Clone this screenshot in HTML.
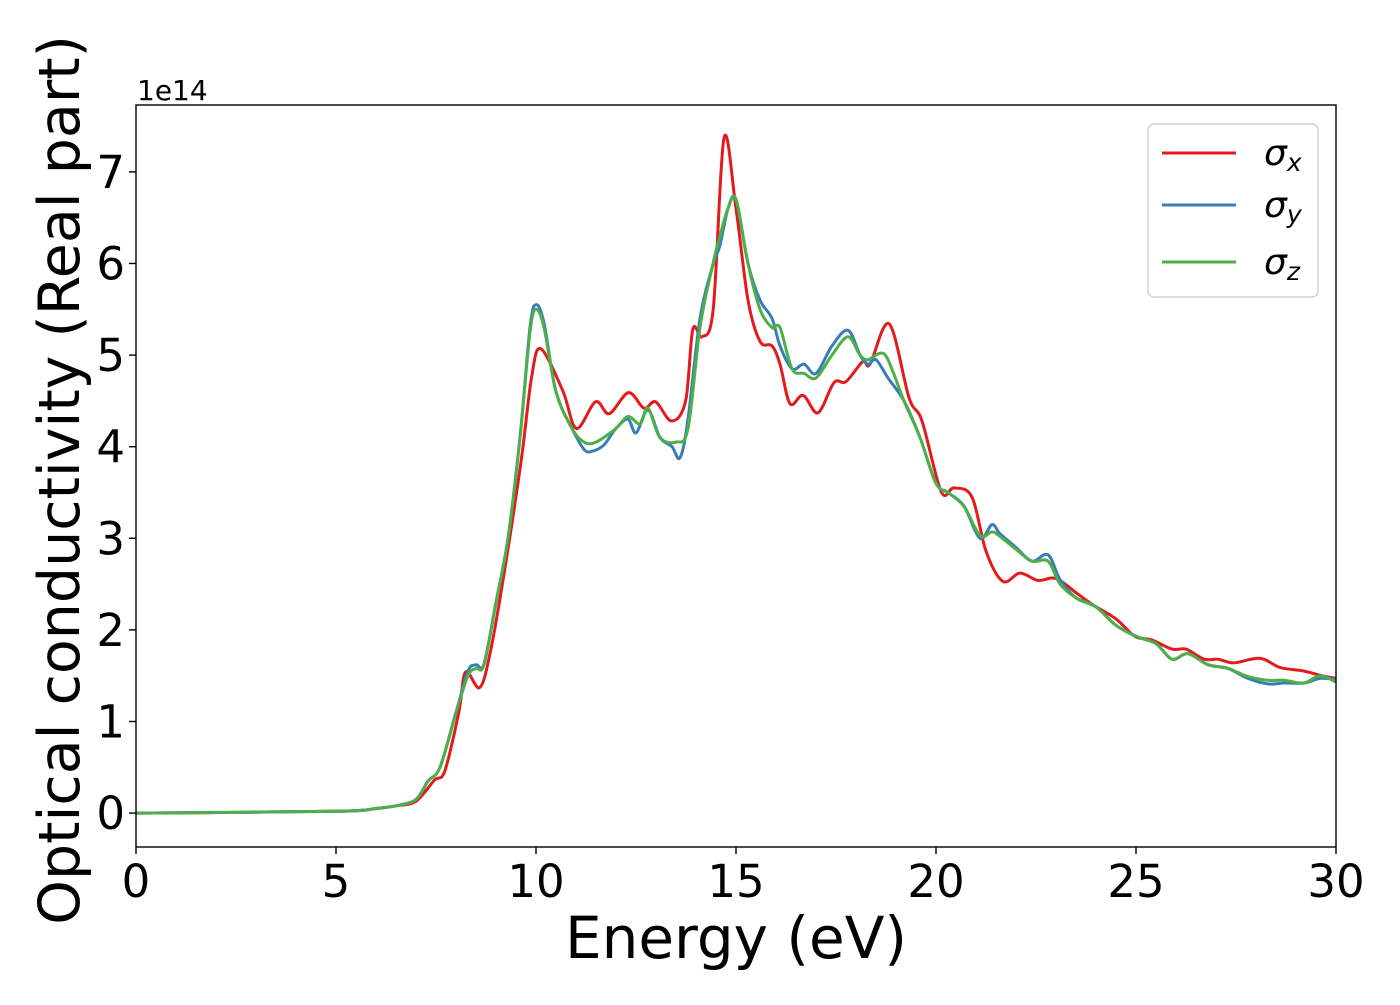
<!DOCTYPE html>
<html><head><meta charset="utf-8"><style>
body{margin:0;background:#fff;}
svg text{font-family:"DejaVu Sans","Liberation Sans",sans-serif;fill:#000;}
</style></head><body>
<svg id="chart" width="1400" height="1000" viewBox="0 0 1400 1000" xmlns="http://www.w3.org/2000/svg">
<rect x="0" y="0" width="1400" height="1000" fill="#fff"/>
<g id="plot"></g>
<g id="axes"></g>
<text x="0" y="0" font-size="57" text-anchor="middle" transform="translate(79,480) rotate(-90)">Optical conductivity (Real part)</text>
<text x="736" y="958" font-size="58" text-anchor="middle">Energy (eV)</text>
<text x="137" y="100" font-size="28">1e14</text>
<g>
<rect x="1148" y="124" width="170" height="173" rx="6" fill="#fff" fill-opacity="0.8" stroke="#d0d0d0" stroke-width="1.5"/>
<line x1="1162" y1="153" x2="1236" y2="153" stroke="#e41a1c" stroke-width="3"/>
<text x="1264" y="165" font-size="36" font-style="italic">σ<tspan font-size="25" dy="6">x</tspan></text>
<line x1="1162" y1="205" x2="1236" y2="205" stroke="#377eb8" stroke-width="3"/>
<text x="1264" y="217" font-size="36" font-style="italic">σ<tspan font-size="25" dy="6">y</tspan></text>
<line x1="1162" y1="262" x2="1236" y2="262" stroke="#4daf4a" stroke-width="3"/>
<text x="1264" y="274" font-size="36" font-style="italic">σ<tspan font-size="25" dy="6">z</tspan></text>
</g>
</svg>
<script>
const energyX=[0,5,6,6.5,7,7.46,7.72,8.07,8.24,8.59,8.85,9.2,9.63,9.89,10.12,10.67,11.01,11.49,11.83,12.31,12.7,12.99,13.39,13.74,13.92,14.15,14.43,14.7,15.0,15.3,15.6,15.9,16.1,16.35,16.68,17.05,17.45,17.75,18.17,18.35,18.83,19.33,19.65,20.13,20.45,20.9,21.25,21.67,22.1,22.55,23.0,23.55,23.9,24.5,24.97,25.4,25.9,26.25,26.7,27.05,27.45,28.1,28.6,29.2,29.65,30];
const sigmaX=[0,0.02,0.05,0.08,0.13,0.36,0.46,1.1,1.54,1.37,1.74,2.61,3.85,4.76,5.07,4.61,4.2,4.49,4.36,4.59,4.42,4.49,4.28,4.5,5.28,5.2,5.5,7.37,6.6,5.6,5.15,5.1,4.9,4.47,4.56,4.37,4.7,4.71,4.93,4.9,5.34,4.53,4.28,3.51,3.55,3.45,2.86,2.53,2.62,2.54,2.56,2.39,2.28,2.12,1.93,1.89,1.79,1.79,1.68,1.68,1.64,1.69,1.59,1.55,1.5,1.47];
const energyY=[0,5,6,6.5,7,7.3,7.6,8.0,8.3,8.5,8.7,9.0,9.3,9.6,9.85,10.0,10.2,10.5,10.9,11.2,11.4,11.7,12.0,12.3,12.5,12.8,13.1,13.4,13.6,13.8,14.1,14.4,14.6,14.8,15.0,15.3,15.6,15.9,16.1,16.4,16.7,17.0,17.4,17.8,18.1,18.3,18.5,18.8,19.2,19.6,20.0,20.3,20.7,21.1,21.4,21.6,22.0,22.4,22.8,23.1,23.5,24.0,24.5,25.0,25.5,25.9,26.3,26.8,27.3,27.8,28.3,28.7,29.2,29.6,30];
const sigmaY=[0,0.02,0.05,0.08,0.15,0.35,0.5,1.1,1.55,1.62,1.63,2.3,3.0,4.1,5.3,5.55,5.35,4.6,4.2,3.97,3.95,4.02,4.2,4.3,4.15,4.4,4.1,4.0,3.88,4.3,5.4,5.95,6.2,6.6,6.7,6.0,5.6,5.4,5.1,4.85,4.9,4.8,5.1,5.27,5.0,4.9,4.95,4.75,4.5,4.1,3.6,3.5,3.35,3.0,3.15,3.05,2.9,2.75,2.82,2.55,2.35,2.25,2.05,1.93,1.85,1.68,1.74,1.62,1.58,1.47,1.41,1.42,1.42,1.47,1.46];
const energyZ=[0,5,6,6.5,7,7.3,7.6,8.0,8.3,8.5,8.7,9.0,9.3,9.6,9.85,10.0,10.2,10.5,10.9,11.2,11.5,12.0,12.3,12.6,12.8,13.1,13.5,13.8,14.1,14.4,14.6,14.8,15.0,15.3,15.6,15.9,16.1,16.4,16.7,17.0,17.4,17.8,18.1,18.3,18.6,18.8,19.2,19.6,20.0,20.3,20.7,21.1,21.4,21.6,22.0,22.4,22.8,23.1,23.5,24.0,24.5,25.0,25.5,25.9,26.3,26.8,27.3,27.8,28.3,28.7,29.2,29.6,30];
const sigmaZ=[0,0.02,0.05,0.08,0.15,0.35,0.5,1.1,1.5,1.58,1.62,2.3,3.0,4.1,5.25,5.5,5.3,4.6,4.2,4.05,4.05,4.2,4.33,4.25,4.42,4.1,4.05,4.2,5.3,5.95,6.3,6.6,6.7,6.0,5.5,5.3,5.3,4.85,4.8,4.75,5.0,5.2,5.0,4.95,5.02,4.95,4.5,4.1,3.6,3.5,3.35,3.03,3.07,3.02,2.88,2.75,2.75,2.5,2.35,2.25,2.05,1.93,1.85,1.68,1.74,1.62,1.58,1.49,1.45,1.45,1.42,1.5,1.43];
const xTicks=[0,5,10,15,20,25,30];
const yTicks=[0,1,2,3,4,5,6,7];

const L=136,R=1336,T=105,B=847;
const xMin=0,xMax=30,yMin=-0.37,yMax=7.73;
const xs=v=>L+(v-xMin)/(xMax-xMin)*(R-L);
const ys=v=>B-(v-yMin)/(yMax-yMin)*(B-T);
const NS="http://www.w3.org/2000/svg";
const plot=document.getElementById('plot'),axes=document.getElementById('axes');

function pathFrom(ex,ev){
  const p=ex.map((e,i)=>[xs(e),ys(ev[i])]);
  let d='M'+p[0][0].toFixed(1)+','+p[0][1].toFixed(1);
  for(let i=0;i<p.length-1;i++){
    const p0=p[Math.max(0,i-1)],p1=p[i],p2=p[i+1],p3=p[Math.min(p.length-1,i+2)];
    const c1=[p1[0]+(p2[0]-p0[0])/6,p1[1]+(p2[1]-p0[1])/6];
    const c2=[p2[0]-(p3[0]-p1[0])/6,p2[1]-(p3[1]-p1[1])/6];
    d+='C'+c1[0].toFixed(1)+','+c1[1].toFixed(1)+' '+c2[0].toFixed(1)+','+c2[1].toFixed(1)+' '+p2[0].toFixed(1)+','+p2[1].toFixed(1);
  }
  return d;
}
const clip=document.createElementNS(NS,'clipPath');clip.setAttribute('id','clipArea');
const cr=document.createElementNS(NS,'rect');cr.setAttribute('x',L);cr.setAttribute('y',T);cr.setAttribute('width',R-L);cr.setAttribute('height',B-T);
clip.appendChild(cr);plot.appendChild(clip);
const series=[[energyX,sigmaX,'#e41a1c','series-sigma-x'],[energyY,sigmaY,'#377eb8','series-sigma-y'],[energyZ,sigmaZ,'#4daf4a','series-sigma-z']];
series.forEach(s=>{
  const path=document.createElementNS(NS,'path');
  path.setAttribute('d',pathFrom(s[0],s[1]));
  path.setAttribute('fill','none');path.setAttribute('stroke',s[2]);path.setAttribute('stroke-width','3');
  path.setAttribute('stroke-linejoin','round');
  path.setAttribute('clip-path','url(#clipArea)');
  
  
  plot.appendChild(path);
});
const frame=document.createElementNS(NS,'rect');
frame.setAttribute('x',L);frame.setAttribute('y',T);frame.setAttribute('width',R-L);frame.setAttribute('height',B-T);
frame.setAttribute('fill','none');frame.setAttribute('stroke','#000');frame.setAttribute('stroke-width','1.4');


axes.appendChild(frame);
xTicks.forEach(t=>{
  const ln=document.createElementNS(NS,'line');
  ln.setAttribute('x1',xs(t));ln.setAttribute('x2',xs(t));ln.setAttribute('y1',B);ln.setAttribute('y2',B+7);ln.setAttribute('stroke','#000');ln.setAttribute('stroke-width','1.4');
  
  
  axes.appendChild(ln);
  const tx=document.createElementNS(NS,'text');
  tx.setAttribute('x',xs(t));tx.setAttribute('y',B+50);tx.setAttribute('font-size','45');tx.setAttribute('text-anchor','middle');
  tx.textContent=t;
  
  
  axes.appendChild(tx);
});
yTicks.forEach(t=>{
  const ln=document.createElementNS(NS,'line');
  ln.setAttribute('x1',L-7);ln.setAttribute('x2',L);ln.setAttribute('y1',ys(t));ln.setAttribute('y2',ys(t));ln.setAttribute('stroke','#000');ln.setAttribute('stroke-width','1.4');
  
  
  axes.appendChild(ln);
  const tx=document.createElementNS(NS,'text');
  tx.setAttribute('x',L-11);tx.setAttribute('y',ys(t)+16);tx.setAttribute('font-size','45');tx.setAttribute('text-anchor','end');
  tx.textContent=t;
  
  
  axes.appendChild(tx);
});
</script>
</body></html>
